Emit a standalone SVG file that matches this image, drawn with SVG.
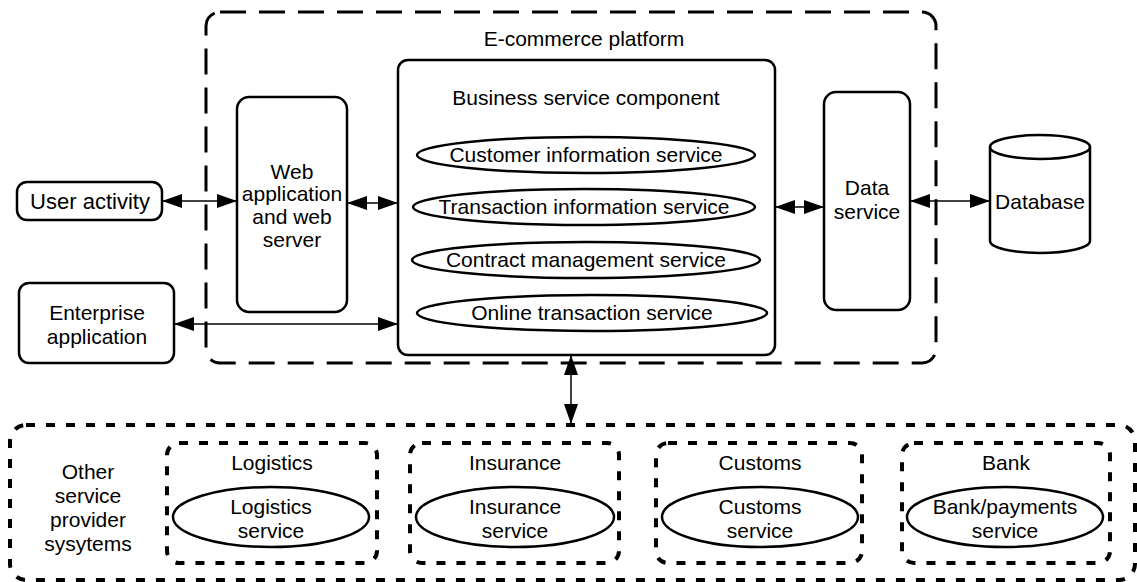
<svg xmlns="http://www.w3.org/2000/svg" width="1137" height="582" viewBox="0 0 1137 582">
<defs>
<marker id="ah" viewBox="0 0 20 14" refX="20" refY="7" markerWidth="20" markerHeight="14" markerUnits="userSpaceOnUse" orient="auto-start-reverse">
<path d="M0,0 L20,7 L0,14 Z" fill="#000"/>
</marker>
</defs>
<style>
text{font-family:"Liberation Sans",Arial,sans-serif;font-size:21px;fill:#000;text-anchor:middle}
.box{fill:#fff;stroke:#000;stroke-width:2.5}
.ell{fill:#fff;stroke:#000;stroke-width:2.5}
.big{fill:none;stroke:#000;stroke-width:3;stroke-dasharray:26 13}
.dot{fill:none;stroke:#000;stroke-width:4;stroke-dasharray:9 11}
.con{fill:none;stroke:#000;stroke-width:1.5;marker-start:url(#ah);marker-end:url(#ah)}
</style>
<g id="ecommerce-platform">
<rect class="big" x="206" y="12" width="730" height="351" rx="14"/>
<text x="584" y="46">E-commerce platform</text>
</g>
<g id="user-activity">
<rect class="box" x="17" y="182" width="145" height="38" rx="10"/>
<text x="90" y="209" style="font-size:22px">User activity</text>
</g>
<g id="enterprise-application">
<rect class="box" x="19" y="283" width="155" height="80" rx="10"/>
<text x="97" y="320">Enterprise</text>
<text x="97" y="344">application</text>
</g>
<g id="web-app">
<rect class="box" x="237" y="97" width="110" height="215" rx="12"/>
<text x="292" y="179">Web</text>
<text x="292" y="201">application</text>
<text x="292" y="224">and web</text>
<text x="292" y="247">server</text>
</g>
<g id="business-service-component">
<rect class="box" x="398" y="60" width="377" height="295" rx="10"/>
<text x="586" y="105">Business service component</text>
<ellipse class="ell" cx="586" cy="155" rx="169" ry="18"/>
<text x="586" y="162">Customer information service</text>
<ellipse class="ell" cx="584" cy="207" rx="171" ry="18"/>
<text x="584" y="214">Transaction information service</text>
<ellipse class="ell" cx="586" cy="260" rx="174" ry="18"/>
<text x="586" y="267">Contract management service</text>
<ellipse class="ell" cx="592" cy="313" rx="175" ry="18"/>
<text x="592" y="320">Online transaction service</text>
</g>
<g id="data-service">
<rect class="box" x="824" y="92" width="86" height="218" rx="12"/>
<text x="867" y="195">Data</text>
<text x="867" y="219">service</text>
</g>
<g id="database">
<path class="box" d="M990,147 L990,241 A50,12 0 0 0 1090,241 L1090,147"/>
<ellipse class="box" cx="1040" cy="147" rx="50" ry="12"/>
<text x="1040" y="209">Database</text>
</g>
<g id="other-service-providers">
<rect class="dot" x="10" y="425" width="1125" height="155" rx="16"/>
<text x="88" y="479">Other</text>
<text x="88" y="503">service</text>
<text x="88" y="527">provider</text>
<text x="88" y="551">sysytems</text>
</g>
<g id="logistics">
<rect class="dot" x="167" y="443" width="210" height="120" rx="12"/>
<text x="272" y="470">Logistics</text>
<ellipse class="ell" cx="271" cy="517" rx="98" ry="30"/>
<text x="271" y="514">Logistics</text>
<text x="271" y="538">service</text>
</g>
<g id="insurance">
<rect class="dot" x="410" y="443" width="209" height="120" rx="12"/>
<text x="515" y="470">Insurance</text>
<ellipse class="ell" cx="515" cy="517" rx="99" ry="30"/>
<text x="515" y="514">Insurance</text>
<text x="515" y="538">service</text>
</g>
<g id="customs">
<rect class="dot" x="656" y="443" width="206" height="120" rx="12"/>
<text x="760" y="470">Customs</text>
<ellipse class="ell" cx="760" cy="517" rx="98" ry="30"/>
<text x="760" y="514">Customs</text>
<text x="760" y="538">service</text>
</g>
<g id="bank">
<rect class="dot" x="902" y="443" width="208" height="120" rx="12"/>
<text x="1006" y="470">Bank</text>
<ellipse class="ell" cx="1005" cy="517" rx="98" ry="30"/>
<text x="1005" y="514">Bank/payments</text>
<text x="1005" y="538">service</text>
</g>
<g id="connectors">
<line class="con" x1="162" y1="201" x2="237" y2="201"/>
<line class="con" x1="174" y1="324" x2="398" y2="324"/>
<line class="con" x1="347" y1="203" x2="398" y2="203"/>
<line class="con" x1="775" y1="207" x2="824" y2="207"/>
<line class="con" x1="910" y1="201" x2="990" y2="201"/>
<line class="con" x1="571" y1="355" x2="571" y2="424"/>
</g>
</svg>
